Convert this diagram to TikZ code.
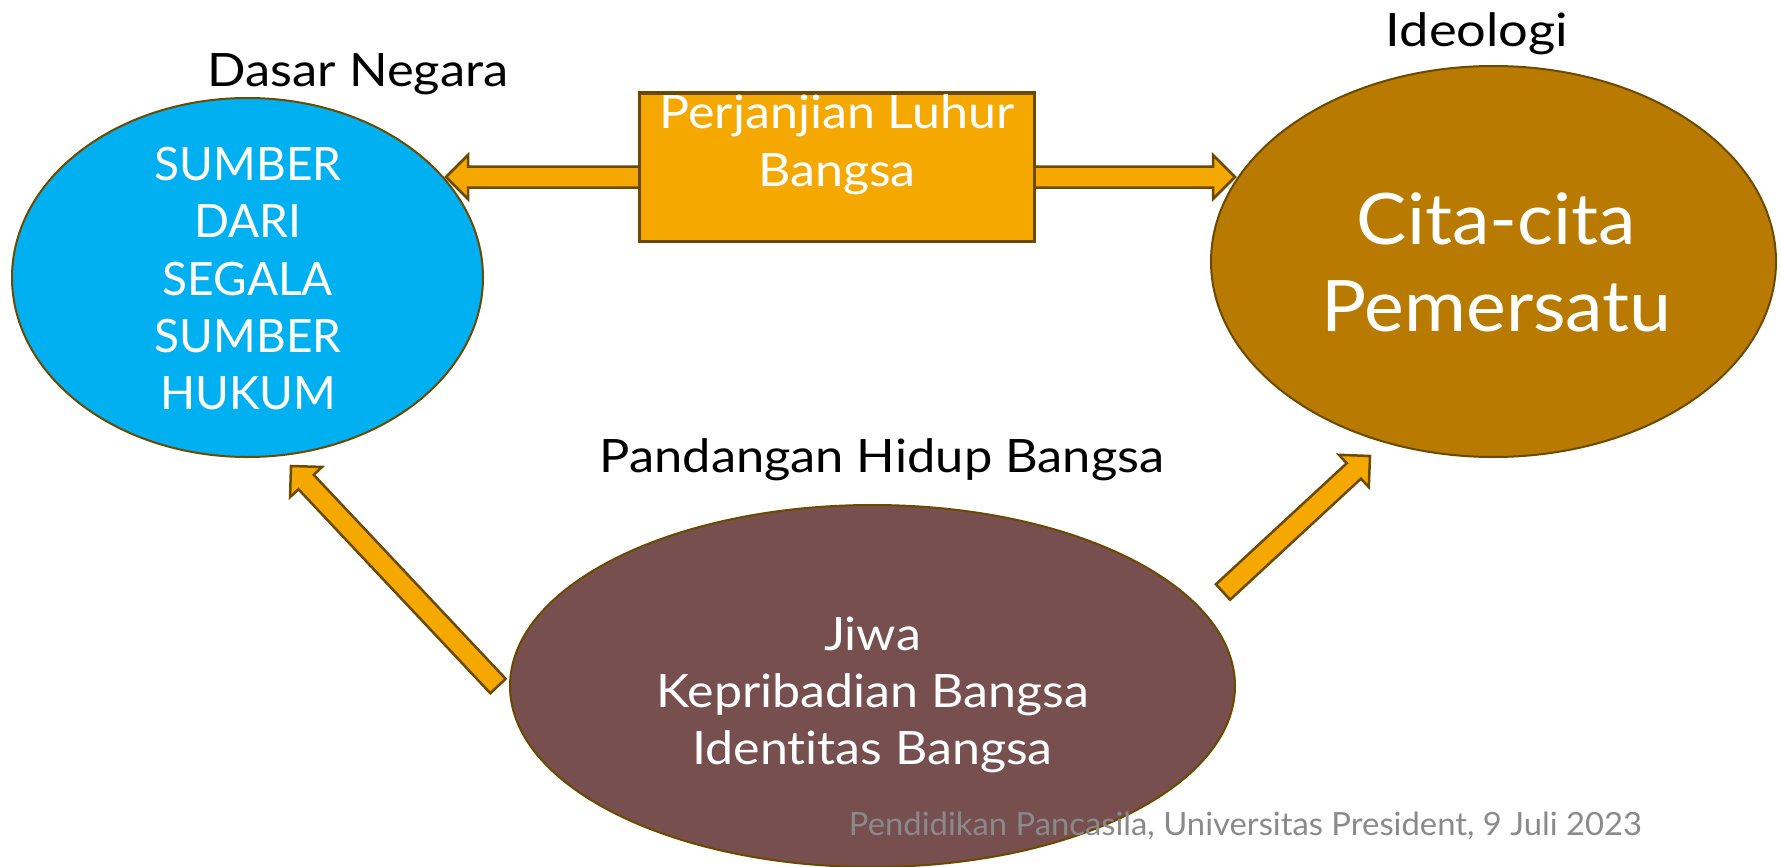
\documentclass[tikz,border=0pt]{standalone}
\usepackage{fontspec}
\setmainfont{Lato}[Ligatures={NoCommon}]
\newfontfamily\stA{Lato}[FakeStretch=1.10, Ligatures={NoCommon}]
\newfontfamily\stI{Lato}[FakeStretch=1.14, Ligatures={NoCommon}]
\newfontfamily\stP{Lato}[FakeStretch=1.09, Ligatures={NoCommon}]
\newfontfamily\stC{Lato}[FakeStretch=1.06, Ligatures={NoCommon}]
\newfontfamily\stF{Lato}[FakeStretch=1.025, Ligatures={NoCommon}]
\usetikzlibrary{shapes.geometric,calc}
\definecolor{cblue}{HTML}{00B0F0}
\definecolor{cgold}{HTML}{B87A00}
\definecolor{cmaroon}{HTML}{774F4E}
\definecolor{corange}{HTML}{F4A800}
\definecolor{coutline}{HTML}{6B4A00}
\definecolor{cgray}{HTML}{8A8A8A}
\tikzset{
  oval/.style={ellipse, draw=coutline, line width=2pt, inner sep=0pt},
  blockarrow/.style={draw=coutline, fill=corange, line width=2.5pt, line join=miter},
  box/.style={rectangle, draw=coutline, fill=corange, line width=3pt, inner sep=0pt},
  label/.style={inner sep=0pt, text=black, anchor=base},
  intext/.style={inner sep=0pt, text=white, align=center, anchor=north},
}
\newcommand\blockarr[2]{%
  \coordinate (ba-h) at ($(#2)!22pt!(#1)$);
  \draw[blockarrow] ($(#1)!10.5pt!90:(#2)$) -- ($(ba-h)!10.5pt!90:(#2)$) -- ($(ba-h)!22pt!90:(#2)$) -- (#2) -- ($(ba-h)!22pt!-90:(#2)$) -- ($(ba-h)!10.5pt!-90:(#2)$) -- ($(#1)!10.5pt!-90:(#2)$) -- cycle;}
\begin{document}
\begin{tikzpicture}[x=1pt,y=-1pt]
\useasboundingbox (0,0) rectangle (1781,867);
% ellipses
\node[oval, fill=cblue, minimum width=471pt, minimum height=359pt] (dasar) at (247.5,277.5) {};
\node[oval, fill=cgold, minimum width=565pt, minimum height=391pt] (ideo) at (1493.5,261.5) {};
\node[oval, fill=cmaroon, minimum width=725pt, minimum height=362pt] (pand) at (872.5,686) {};
% arrow coordinates
\coordinate (hs) at (837,177);
\coordinate (ltip) at (446,177);
\coordinate (rtip) at (1235,177);
\coordinate (dltail) at (498,686);
\coordinate (dltip) at (291,466);
\coordinate (drtail) at (1223,592);
\coordinate (drtip) at (1370,456);
\blockarr{hs}{ltip}
\blockarr{hs}{rtip}
\blockarr{dltail}{dltip}
\blockarr{drtail}{drtip}
% rectangle
\node[box, minimum width=395pt, minimum height=148pt] (janji) at (836.5,167) {};
% texts
\node[intext, font=\fontsize{46}{57.3}\selectfont] (dasartxt) at (248,147) {SUMBER\\DARI\\SEGALA\\SUMBER\\HUKUM};
\node[intext, font=\stP\fontsize{46}{58}\selectfont] (janjitxt) at (837,94) {Perjanjian Luhur\\Bangsa};
\node[intext, font=\stC\fontsize{71}{87}\selectfont] (ideotxt) at (1496.5,193) {Cita-cita\\Pemersatu};
\node[intext, font=\stP\fontsize{46}{57}\selectfont] (pandtxt) at (872.5,617) {Jiwa\\Kepribadian Bangsa\\Identitas Bangsa};
\node[label, font=\stA\fontsize{46}{57}\selectfont] (dasarlab) at (358,86) {Dasar Negara};
\node[label, font=\stI\fontsize{46}{57}\selectfont] (ideolab) at (1477,47) {Ideologi};
\node[label, font=\stA\fontsize{46}{57}\selectfont] (pandlab) at (882,472) {Pandangan Hidup Bangsa};
\node[inner sep=0pt, anchor=base, text=cgray, font=\stF\fontsize{32}{38}\selectfont] (footer) at (1245.5,835) {Pendidikan Pancasila, Universitas President, 9 Juli 2023};
\end{tikzpicture}
\end{document}
